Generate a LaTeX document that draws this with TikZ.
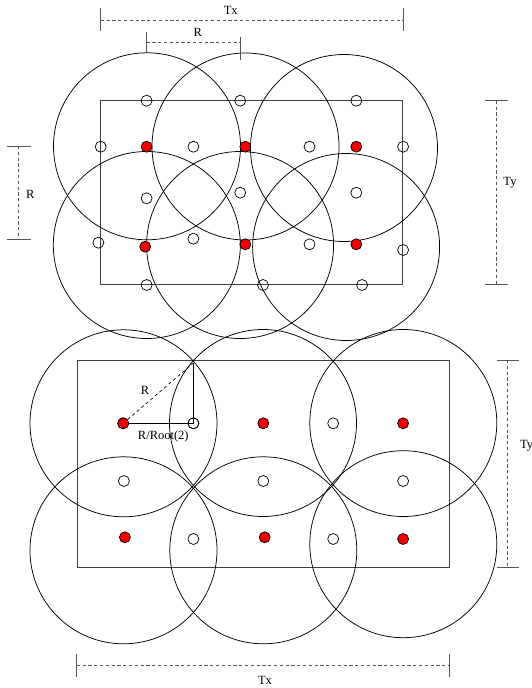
\documentclass[tikz,border=0pt]{standalone}
\usepackage{fontspec}
\setmainfont{Liberation Serif}
\usepackage{tikz}
\usetikzlibrary{calc}
\usepackage{xcolor}
\definecolor{hotred}{RGB}{240,0,0}
\definecolor{dimgrey}{RGB}{85,85,85}

\begin{document}
\begin{tikzpicture}[x=1pt, y=-1pt, every node/.style={font=\fontsize{12.5}{14}\selectfont, inner sep=0pt},
  ring/.style={line width=0.75pt},
  area/.style={line width=1pt, black!75},
  spot/.style={circle, draw, line width=0.7pt, minimum size=11pt},
  hotspot/.style={spot, fill=hotred},
  dimline/.style={dimgrey, line width=0.9pt, dash pattern=on 3.2pt off 2.6pt},
  tickline/.style={dimgrey, line width=1pt}]
  \useasboundingbox (0,0) rectangle (532,688);
  % ---------------- upper layout (shifted rows) ----------------
  \draw[area] (100.7,100.7) rectangle (402.7,284.5);
  \foreach \c in {(147,146.3),(245.5,146.5),(344,148),(146.8,245),(240.1,245),(346.1,247)}{
    \draw[ring] \c circle (93.5);
  }
  \foreach \p [count=\i] in {(146.6,100.7),(240.2,100.7),(356.3,100.7),
      (100.7,146.7),(193.4,146.7),(309.5,146.7),(403.1,146.7),
      (146.6,198.3),(240.2,192.7),(356.3,192.7),
      (98.4,242.7),(193.4,238.7),(309.5,244.3),(403.1,250),
      (146.6,285),(263,285),(362.1,285)}{
    \node[spot] (ua\i) at \p {};
  }
  \foreach \p [count=\i] in {(146.6,146.7),(245.3,146.7),(356.3,146.7),
      (145.2,246.7),(245.3,244.3),(356.3,244.3)}{
    \node[hotspot] (ub\i) at \p {};
  }
  % dimensions of the upper layout
  \coordinate (txA) at (100.8,20);  \coordinate (txB) at (403.1,20);
  \draw[dimline] (txA) -- (txB);
  \draw[tickline] ($(txA)+(0,-11.7)$) -- ($(txA)+(0,10.7)$);
  \draw[tickline] ($(txB)+(0,-11.7)$) -- ($(txB)+(0,10.7)$);
  \node (txlab) at (230.7,10) {Tx};
  \coordinate (rA) at (146.6,42.7);  \coordinate (rB) at (240.2,42.7);
  \draw[dimline] (rA) -- (rB);
  \draw[tickline] ($(rA)+(0,-11)$) -- ($(rA)+(0,10.6)$);
  \draw[tickline] ($(rB)+(0,-5.4)$) -- ($(rB)+(0,17.3)$);
  \node (rlab) at (197.8,32.3) {R};
  \coordinate (rvA) at (18.3,146);  \coordinate (rvB) at (18.3,239);
  \draw[dimline] (rvA) -- (rvB);
  \draw[tickline] ($(rvA)+(-11,0)$) -- ($(rvA)+(12.4,0)$);
  \draw[tickline] ($(rvB)+(-11,0)$) -- ($(rvB)+(12.4,0)$);
  \node[anchor=west] (rvlab) at (26,194.3) {R};
  \coordinate (tyA) at (496.4,100.7);  \coordinate (tyB) at (496.4,284.5);
  \draw[dimline] (tyA) -- (tyB);
  \draw[tickline] ($(tyA)+(-11.2,0)$) -- ($(tyA)+(11.6,0)$);
  \draw[tickline] ($(tyB)+(-11.2,0)$) -- ($(tyB)+(11.6,0)$);
  \node (tylab) at (510,182.7) {Ty};
  % ---------------- lower layout (square grid) ----------------
  \draw[area] (77.4,360) rectangle (449.6,567.3);
  \foreach \c in {(123.5,423.3),(263,423),(403.3,423),(123.5,550.3),(263.3,550.3),(403.3,544.2)}{
    \draw[ring] \c circle (93.5);
  }
  \foreach \p [count=\i] in {(193.4,423.3),(333.2,423.3),
      (123.9,481),(263.3,481),(403.1,481),
      (193.4,539),(333.2,539)}{
    \node[spot] (la\i) at \p {};
  }
  \foreach \p [count=\i] in {(123.2,423.3),(263.3,423.3),(403.1,423.3),
      (124.9,537.3),(264.7,537.3),(403.1,539)}{
    \node[hotspot] (lb\i) at \p {};
  }
  % R and R/Root(2) construction
  \coordinate (cross) at (193.4,363);
  \draw[line width=0.9pt] (lb1.center) -- (la1.center) -- (cross);
  \draw[line width=0.7pt, dash pattern=on 3pt off 3pt] (lb1.center) -- (cross);
  \node[hotspot] at (lb1) {};
  \node[spot] at (la1) {};
  \node (rdiag) at (145,390.7) {R};
  \node (rhalf) at (163.3,436.7) {R/Root(2)};
  % dimensions of the lower layout
  \coordinate (tyC) at (507.7,360);  \coordinate (tyD) at (507.7,567.3);
  \draw[dimline] (tyC) -- (tyD);
  \draw[tickline] ($(tyC)+(-11,0)$) -- ($(tyC)+(11.6,0)$);
  \draw[tickline] ($(tyD)+(-11,0)$) -- ($(tyD)+(11.6,0)$);
  \node[anchor=west] (tylab2) at (520,446) {Ty};
  \coordinate (txC) at (76.7,665);  \coordinate (txD) at (449.3,665);
  \draw[dimline] (txC) -- (txD);
  \draw[tickline] ($(txC)+(0,-11)$) -- ($(txC)+(0,11.7)$);
  \draw[tickline] ($(txD)+(0,-11)$) -- ($(txD)+(0,11.7)$);
  \node (txlab2) at (265,680) {Tx};
\end{tikzpicture}
\end{document}
